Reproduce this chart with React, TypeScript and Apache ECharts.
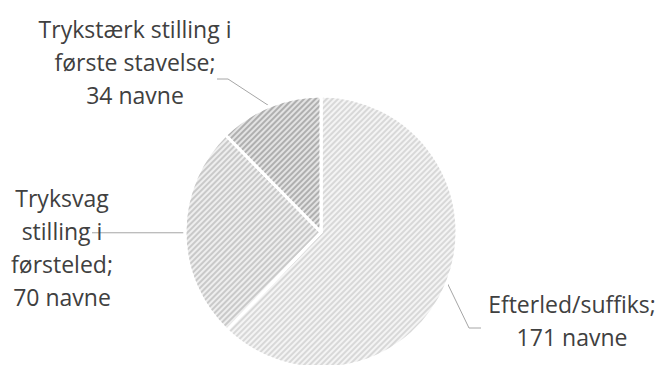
import React, { useEffect, useRef } from 'react';
import * as echarts from 'echarts';

// ---- data ----
const categories: string[] = [
  'Efterled/suffiks',
  'Tryksvag\nstilling i\nførsteled',
  'Trykstærk stilling i\nførste stavelse',
];
const values: number[] = [171, 70, 34];
const unitLabel = 'navne';

// ---- styles ----
const fillColors = ['#f4f4f4', '#eeeeee', '#e3e3e3'];
const hatchColors = ['#d8d8d8', '#c9c9c9', '#afafaf'];
// label block centres and label-line bend / end points (layout only)
const labelCenters: [number, number][] = [
  [572, 320],
  [62, 247],
  [135, 62],
];
const lineBends: [number, number][][] = [
  [[469, 328], [481, 328]],
  [[120, 0], [92, 0]],
  [[228, 79], [217, 79]],
];

export default function App() {
  const ref = useRef<HTMLDivElement>(null);
  useEffect(() => {
    if (!ref.current) return;
    const chart = echarts.init(ref.current, undefined, { renderer: 'svg' });
    const data = categories.map((name, i) => ({
      name,
      value: values[i],
      itemStyle: {
        color: fillColors[i],
        decal: {
          symbol: 'rect',
          dashArrayX: [1, 0],
          dashArrayY: [2, 2],
          rotation: -Math.PI / 4,
          color: hatchColors[i],
        },
      },
    }));
    chart.setOption({
      animation: false,
      backgroundColor: '#ffffff',
      series: [
        {
          type: 'pie',
          center: [321, 232],
          radius: 136,
          startAngle: 90,
          clockwise: true,
          avoidLabelOverlap: false,
          silent: true,
          itemStyle: { borderColor: '#ffffff', borderWidth: 3 },
          label: {
            show: true,
            position: 'outside',
            formatter: (p: any) => `${p.name};\n${p.value} ${unitLabel}`,
            fontFamily: '"Open Sans", sans-serif',
            fontSize: 23,
            lineHeight: 33,
            color: '#404040',
            align: 'center',
          },
          labelLine: {
            show: true,
            length: 10,
            length2: 10,
            smooth: false,
            lineStyle: { color: '#a6a6a6', width: 1 },
          },
          labelLayout: (params: any) => {
            const i = params.dataIndex;
            const p0 = params.labelLinePoints ? params.labelLinePoints[0] : [0, 0];
            const bends = lineBends[i].map((b) => [b[0], i === 1 ? p0[1] : b[1]]);
            return {
              x: labelCenters[i][0],
              y: labelCenters[i][1],
              align: 'center',
              verticalAlign: 'middle',
              labelLinePoints: [[p0[0], p0[1]], bends[0], bends[1]],
            };
          },
          emphasis: { disabled: true },
          data,
        },
      ],
    });
    return () => chart.dispose();
  }, []);
  return (
    <div
      ref={ref}
      style={{ position: 'fixed', left: 0, top: 0, width: 659, height: 365 }}
    />
  );
}
